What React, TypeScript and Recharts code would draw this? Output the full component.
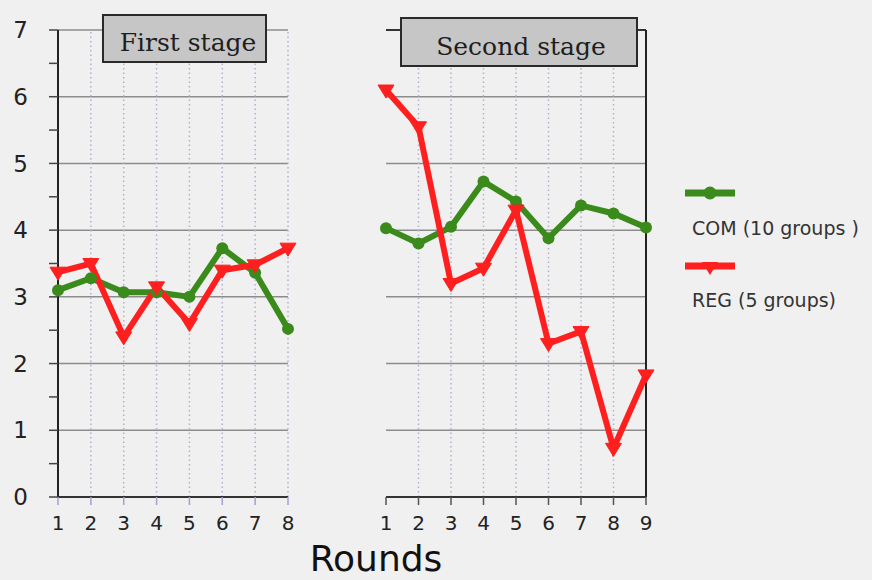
import { LineChart, Line, XAxis, YAxis, ReferenceLine } from "recharts";

const rounds1 = [1, 2, 3, 4, 5, 6, 7, 8];
const com1 = [3.1, 3.28, 3.07, 3.07, 3.0, 3.73, 3.36, 2.52];
const reg1 = [3.37, 3.5, 2.4, 3.15, 2.6, 3.4, 3.48, 3.73];

const rounds2 = [1, 2, 3, 4, 5, 6, 7, 8, 9];
const com2 = [4.03, 3.8, 4.05, 4.73, 4.43, 3.88, 4.37, 4.25, 4.04];
const reg2 = [6.1, 5.55, 3.2, 3.43, 4.3, 2.3, 2.48, 0.73, 1.83];

const yTicks = [0, 1, 2, 3, 4, 5, 6, 7];
const yMinorTicks = [0, 0.5, 1, 1.5, 2, 2.5, 3, 3.5, 4, 4.5, 5, 5.5, 6, 6.5, 7];
const stageTitles = ["First stage", "Second stage"];
const seriesNames = ["COM (10 groups )", "REG (5 groups)"];

const GREEN = "#3a8a1c";
const RED = "#ff1f1f";
const GRID = "#8c8c8c";
const VGRID = "#b4aed0";
const SANS = "'DejaVu Sans', Arial, sans-serif";
const SERIF = "'DejaVu Serif', 'Times New Roman', serif";

const build = (rounds: number[], com: number[], reg: number[]) =>
  rounds.map((r, i) => ({ round: r, com: com[i], reg: reg[i] }));

const data1 = build(rounds1, com1, reg1);
const data2 = build(rounds2, com2, reg2);

function TriangleDot(props: any) {
  const { cx, cy } = props;
  if (cx == null || cy == null) return null;
  return (
    <path
      d={`M${cx - 8},${cy - 5} L${cx + 8},${cy - 5} L${cx},${cy + 8} Z`}
      fill={RED}
      stroke={RED}
      strokeWidth={1}
    />
  );
}

function CircleDot(props: any) {
  const { cx, cy } = props;
  if (cx == null || cy == null) return null;
  return <circle cx={cx} cy={cy} r={6} fill={GREEN} />;
}

const tickStyle = { fontSize: 20, fill: "#222", fontFamily: SANS };

export default function App() {
  return (
    <div
      style={{
        position: "absolute",
        left: 0,
        top: 0,
        width: 872,
        height: 580,
        background: "#f0f0f0",
        overflow: "hidden",
      }}
    >
      {/* first stage */}
      <div style={{ position: "absolute", left: 0, top: 0 }}>
        <LineChart
          width={320}
          height={580}
          data={data1}
          margin={{ top: 30, right: 32, bottom: 43, left: 0 }}
        >
          {yTicks.slice(1).map((v) => (
            <ReferenceLine key={`h${v}`} y={v} stroke={GRID} strokeWidth={1.5} />
          ))}
          {rounds1.slice(1).map((r) => (
            <ReferenceLine
              key={`v${r}`}
              x={r}
              stroke={VGRID}
              strokeWidth={1.5}
              strokeDasharray="1.5 3"
            />
          ))}
          <XAxis
            dataKey="round"
            type="number"
            domain={[1, 8]}
            ticks={rounds1}
            height={40}
            axisLine={{ stroke: "#333", strokeWidth: 2 }}
            tickLine={{ stroke: "#a79fd4", strokeWidth: 1.5 }}
            tickSize={8}
            tickMargin={11}
            tick={tickStyle}
          />
          <YAxis
            type="number"
            domain={[0, 7]}
            ticks={yMinorTicks}
            width={58}
            interval={0}
            axisLine={{ stroke: "#222", strokeWidth: 2 }}
            tickLine={{ stroke: "#444", strokeWidth: 1.5 }}
            tickSize={9}
            tickMargin={21}
            tickFormatter={(v: number) => (Number.isInteger(v) ? String(v) : "")}
            tick={{ ...tickStyle, fontSize: 23 }}
          />
          <Line
            dataKey="com"
            stroke={GREEN}
            strokeWidth={6}
            dot={<CircleDot />}
            isAnimationActive={false}
          />
          <Line
            dataKey="reg"
            stroke={RED}
            strokeWidth={6}
            dot={<TriangleDot />}
            isAnimationActive={false}
          />
        </LineChart>
      </div>

      {/* second stage */}
      <div style={{ position: "absolute", left: 370, top: 0 }}>
        <LineChart
          width={300}
          height={580}
          data={data2}
          margin={{ top: 30, right: 24, bottom: 43, left: 16 }}
        >
          {yTicks.slice(1, 7).map((v) => (
            <ReferenceLine key={`h${v}`} y={v} stroke={GRID} strokeWidth={1.5} />
          ))}
          <ReferenceLine y={7} stroke="#333" strokeWidth={2} />
          {rounds2.slice(1, 8).map((r) => (
            <ReferenceLine
              key={`v${r}`}
              x={r}
              stroke={VGRID}
              strokeWidth={1.5}
              strokeDasharray="1.5 3"
            />
          ))}
          <ReferenceLine x={9} stroke="#222" strokeWidth={2} />
          <XAxis
            dataKey="round"
            type="number"
            domain={[1, 9]}
            ticks={rounds2}
            height={40}
            axisLine={{ stroke: "#333", strokeWidth: 2 }}
            tickLine={{ stroke: "#555", strokeWidth: 1.5 }}
            tickSize={8}
            tickMargin={11}
            tick={tickStyle}
          />
          <YAxis type="number" domain={[0, 7]} hide />
          <Line
            dataKey="com"
            stroke={GREEN}
            strokeWidth={6}
            dot={<CircleDot />}
            isAnimationActive={false}
          />
          <Line
            dataKey="reg"
            stroke={RED}
            strokeWidth={6}
            dot={<TriangleDot />}
            isAnimationActive={false}
          />
        </LineChart>
      </div>

      {/* titles, legend, axis title */}
      <svg
        width={872}
        height={580}
        style={{ position: "absolute", left: 0, top: 0, pointerEvents: "none" }}
      >
        <rect x={103} y={15} width={163} height={47} fill="#c6c6c6" stroke="#2a2a2a" strokeWidth={2} />
        <text x={188} y={51} textAnchor="middle" fontFamily={SERIF} fontSize={25} fill="#1e1e1e">
          {stageTitles[0]}
        </text>
        <rect x={401} y={18} width={236} height={48} fill="#c6c6c6" stroke="#2a2a2a" strokeWidth={2} />
        <text x={521} y={55} textAnchor="middle" fontFamily={SERIF} fontSize={25} fill="#1e1e1e">
          {stageTitles[1]}
        </text>

        <line x1={685} y1={193} x2={735} y2={193} stroke={GREEN} strokeWidth={7} />
        <circle cx={710} cy={193} r={6.5} fill={GREEN} />
        <text x={692} y={235} fontFamily={SANS} fontSize={19} fill="#333">
          {seriesNames[0]}
        </text>
        <line x1={685} y1={266} x2={735} y2={266} stroke={RED} strokeWidth={7} />
        <path d="M702,262 L718,262 L710,275 Z" fill={RED} />
        <text x={692} y={307} fontFamily={SANS} fontSize={19} fill="#333">
          {seriesNames[1]}
        </text>

        <text x={376} y={571} textAnchor="middle" fontFamily={SANS} fontSize={36} fill="#111">
          Rounds
        </text>
      </svg>
    </div>
  );
}
